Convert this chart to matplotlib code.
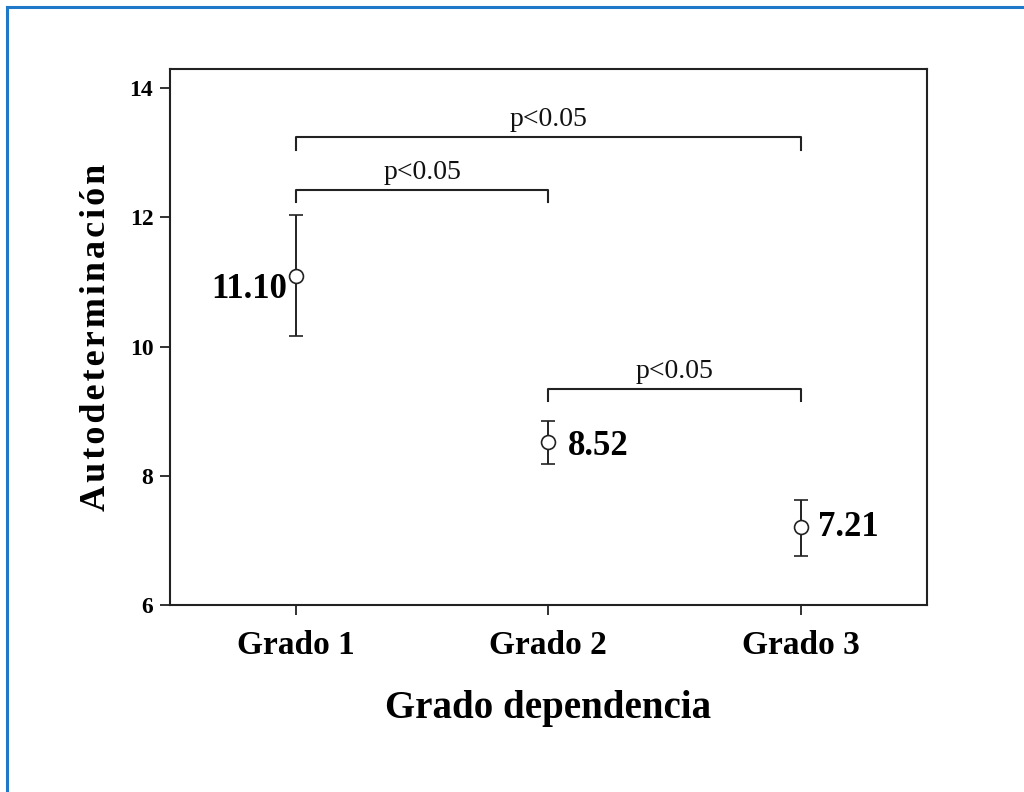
import numpy as np
import matplotlib.pyplot as plt
from matplotlib.lines import Line2D

plt.rcParams['font.family'] = ['Liberation Serif', 'DejaVu Serif']

## Data: group means and error bar half-widths
grados = ['Grado 1', 'Grado 2', 'Grado 3']
medias = [11.10, 8.52, 7.21]
err_inf = [0.94, 0.33, 0.45]
err_sup = [0.94, 0.33, 0.42]

# Significance brackets: (from group, to group, height, drop)
brackets = [(1, 3, 13.24, 0.20),
            (1, 2, 12.42, 0.18),
            (2, 3, 9.34, 0.18)]
p_text = 'p<0.05'

x = np.arange(1, len(grados) + 1)
col = '#222222'

fig = plt.figure(figsize=(10.24, 7.92), dpi=100)
ax = fig.add_axes([0.166, 0.236, 0.739, 0.677])

ax.errorbar(x, medias, yerr=[err_inf, err_sup], fmt='o', color=col,
            mfc='white', mec=col, ms=10, mew=1.2, elinewidth=1.4,
            capsize=5, capthick=1.4, zorder=3)

# value labels next to each point
offsets = [(-9, -14, 'right'), (20, -4, 'left'), (17, -1, 'left')]
for xi, m, (dx, dy, ha) in zip(x, medias, offsets):
    ax.annotate(f'{m:.2f}', (xi, m), xytext=(dx, dy), textcoords='offset pixels',
                ha=ha, va='center', fontsize=25, fontweight='bold', color='black')

for a, b, h, d in brackets:
    ax.plot([a, a, b, b], [h - d, h, h, h - d], color=col, lw=1.5)
    ax.text((a + b) / 2, h + 0.08, p_text, ha='center', va='bottom',
            fontsize=20, color='#111111')

ax.set_xlim(0.5, 3.5)
ax.set_ylim(6, 14.3)
ax.set_yticks([6, 8, 10, 12, 14])
ax.set_xticks(x)
ax.set_xticklabels(grados)

for s in ax.spines.values():
    s.set_color(col)
    s.set_linewidth(1.5)

ax.tick_params(axis='y', length=7, width=1.3, color=col, pad=5, labelsize=17)
ax.tick_params(axis='x', length=7, width=1.3, color=col, pad=11, labelsize=24)
for lab in ax.get_xticklabels() + ax.get_yticklabels():
    lab.set_fontweight('bold')

ax.set_xlabel('Grado dependencia', fontsize=28, fontweight='bold', labelpad=21)
ax.set_ylabel('\u200a'.join('Autodeterminación'), fontsize=26,
              fontweight='bold', labelpad=12)

# blue frame lines along the top and left edges
fig.add_artist(Line2D([7 / 1024, 7 / 1024], [0, 1 - 7 / 792],
                      color='#1f78c8', lw=2.2, transform=fig.transFigure))
fig.add_artist(Line2D([7 / 1024, 1], [1 - 7 / 792, 1 - 7 / 792],
                      color='#1f78c8', lw=2.2, transform=fig.transFigure))

fig.savefig('out.png', dpi=100)
